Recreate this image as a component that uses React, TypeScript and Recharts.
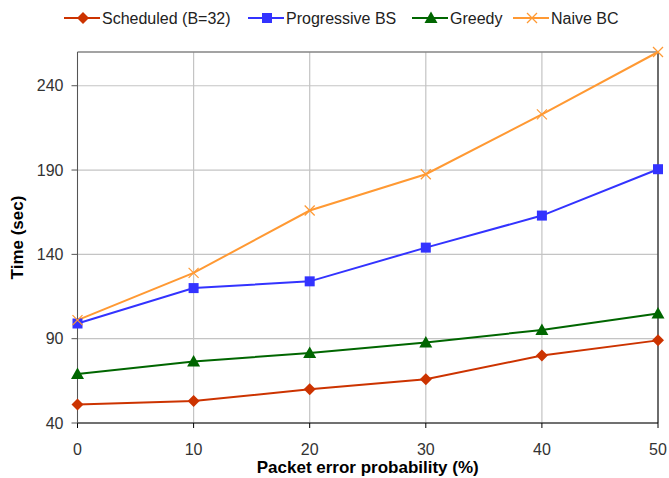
import React from 'react';
import { LineChart, Line, XAxis, YAxis, CartesianGrid, ReferenceLine } from 'recharts';

const errorProb = [0, 10, 20, 30, 40, 50];
const scheduled = [51, 53, 60, 66, 80, 89];
const progressive = [99, 120, 124, 144, 163, 190.5];
const greedy = [69, 76.5, 81.5, 87.7, 95.2, 105];
const naive = [101, 129, 166, 187.5, 223, 260];
const yTicks = [40, 90, 140, 190, 240];

const FONT = '"Liberation Sans", Arial, sans-serif';

const data = errorProb.map((p, i) => ({
  p,
  scheduled: scheduled[i],
  progressive: progressive[i],
  greedy: greedy[i],
  naive: naive[i],
}));

type Marker = 'diamond' | 'square' | 'triangle' | 'cross';

const drawMarker = (kind: Marker, cx: number, cy: number, color: string, key?: string) => {
  switch (kind) {
    case 'diamond':
      return (
        <polygon
          key={key}
          points={`${cx},${cy - 6} ${cx + 6},${cy} ${cx},${cy + 6} ${cx - 6},${cy}`}
          fill={color}
        />
      );
    case 'square':
      return <rect key={key} x={cx - 5} y={cy - 5} width={10} height={10} fill={color} />;
    case 'triangle':
      return (
        <polygon
          key={key}
          points={`${cx},${cy - 6.5} ${cx + 6.5},${cy + 5} ${cx - 6.5},${cy + 5}`}
          fill={color}
        />
      );
    default:
      return (
        <g key={key} stroke={color} strokeWidth={1.2}>
          <line x1={cx - 5} y1={cy - 5} x2={cx + 5} y2={cy + 5} />
          <line x1={cx - 5} y1={cy + 5} x2={cx + 5} y2={cy - 5} />
        </g>
      );
  }
};

const series: { key: string; name: string; color: string; marker: Marker }[] = [
  { key: 'scheduled', name: 'Scheduled (B=32)', color: '#cc3300', marker: 'diamond' },
  { key: 'progressive', name: 'Progressive BS', color: '#3333ff', marker: 'square' },
  { key: 'greedy', name: 'Greedy', color: '#006600', marker: 'triangle' },
  { key: 'naive', name: 'Naive BC', color: '#ff9933', marker: 'cross' },
];

const legendX = [64, 248, 412, 513];

const ChartLegend: React.FC = () => (
  <svg
    width={669}
    height={36}
    style={{ position: 'absolute', left: 0, top: 0, pointerEvents: 'none' }}
  >
    {series.map((s, i) => (
      <g key={s.key}>
        <line x1={legendX[i]} y1={18} x2={legendX[i] + 36} y2={18} stroke={s.color} strokeWidth={2} />
        {drawMarker(s.marker, legendX[i] + 19, 18, s.color)}
        <text
          x={legendX[i] + 38}
          y={23.5}
          fontSize={16}
          fontFamily={FONT}
          fill="#222"
        >
          {s.name}
        </text>
      </g>
    ))}
  </svg>
);

export default function App() {
  return (
    <div style={{ position: 'absolute', left: 0, top: 0, width: 669, height: 478, background: '#fff' }}>
      <LineChart
        width={669}
        height={478}
        data={data}
        margin={{ top: 52, right: 11, bottom: 0, left: 0 }}
      >
        <CartesianGrid stroke="#c4c4c4" strokeWidth={1.2} />
        <XAxis
          dataKey="p"
          type="number"
          domain={[0, 50]}
          ticks={errorProb}
          height={55}
          stroke="#000"
          tickSize={5}
          tickMargin={16}
          tick={{ fontSize: 16, fontFamily: FONT, fill: '#333' }}
          label={(props: any) => {
            const vb = props.viewBox || {};
            return (
              <text
                x={vb.x + vb.width / 2}
                y={473}
                textAnchor="middle"
                fontSize={17}
                fontWeight="bold"
                fontFamily={FONT}
                fill="#000"
              >
                Packet error probability (%)
              </text>
            );
          }}
        />
        <YAxis
          type="number"
          domain={[40, 260]}
          ticks={yTicks}
          interval={0}
          width={77.5}
          stroke="#555"
          tickSize={6}
          tickMargin={8}
          tick={{ fontSize: 16, fontFamily: FONT, fill: '#333' }}
          label={(props: any) => {
            const vb = props.viewBox || {};
            const cy = vb.y + vb.height / 2;
            return (
              <text
                x={17.5}
                y={cy}
                transform={`rotate(-90, 17.5, ${cy})`}
                textAnchor="middle"
                dominantBaseline="central"
                fontSize={17}
                fontWeight="bold"
                fontFamily={FONT}
                fill="#000"
              >
                Time (sec)
              </text>
            );
          }}
        />
        <ReferenceLine y={260} stroke="#666" strokeWidth={1.2} />
        <ReferenceLine x={50} stroke="#222" strokeWidth={1.2} />
        {series.map((s) => (
          <Line
            key={s.key}
            dataKey={s.key}
            name={s.name}
            stroke={s.color}
            strokeWidth={2}
            isAnimationActive={false}
            dot={(props: any) => drawMarker(s.marker, props.cx, props.cy, s.color, `${s.key}-${props.index}`)}
            activeDot={false}
          />
        ))}
      </LineChart>
      <ChartLegend />
    </div>
  );
}
